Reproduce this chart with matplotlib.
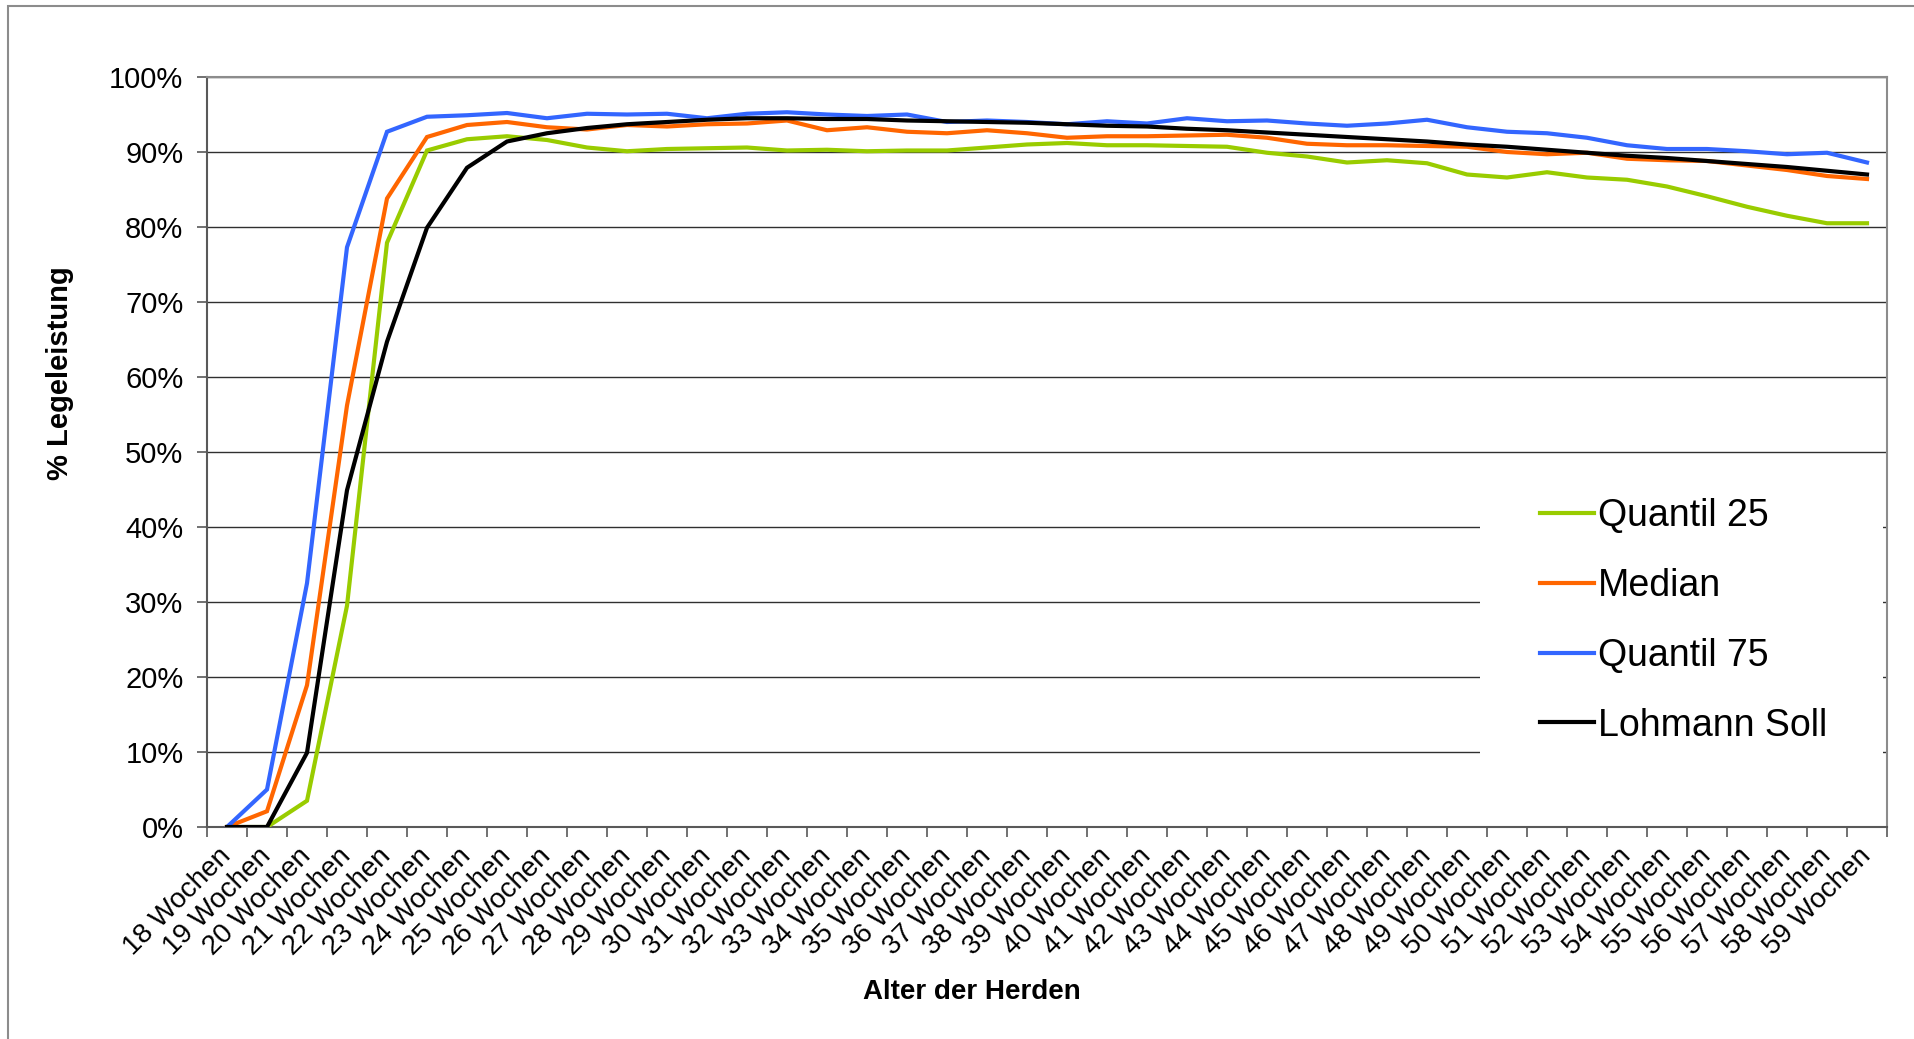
import numpy as np
import matplotlib
matplotlib.use("Agg")
import matplotlib.pyplot as plt
from matplotlib.patches import Rectangle
from matplotlib.ticker import FuncFormatter

plt.rcParams['font.family'] = ['Liberation Sans', 'DejaVu Sans']

weeks = list(range(18, 60))
categories = [f"{w} Wochen" for w in weeks]

quantil_25 = [0, 0, 3.5, 29.5, 77.9, 90.2, 91.7, 92.1, 91.6, 90.6,
              90.1, 90.4, 90.5, 90.6, 90.2, 90.3, 90.1, 90.2, 90.2, 90.6,
              91.0, 91.2, 90.9, 90.9, 90.8, 90.7, 89.9, 89.4, 88.6, 88.9,
              88.5, 87.0, 86.6, 87.3, 86.6, 86.3, 85.4, 84.1, 82.7, 81.5,
              80.5, 80.5]
median = [0, 2.1, 18.9, 56.2, 83.8, 92.0, 93.6, 94.0, 93.3, 93.0,
          93.6, 93.4, 93.7, 93.8, 94.2, 92.9, 93.3, 92.7, 92.5, 92.9,
          92.5, 91.9, 92.1, 92.1, 92.2, 92.3, 91.9, 91.1, 90.9, 90.9,
          90.8, 90.7, 90.0, 89.7, 89.9, 89.1, 88.9, 88.8, 88.2, 87.6,
          86.8, 86.4]
quantil_75 = [0, 5.0, 32.5, 77.3, 92.7, 94.7, 94.9, 95.2, 94.5, 95.1,
              95.0, 95.1, 94.5, 95.1, 95.3, 95.0, 94.8, 95.0, 94.0, 94.2,
              94.0, 93.7, 94.1, 93.8, 94.5, 94.1, 94.2, 93.8, 93.5, 93.8,
              94.3, 93.3, 92.7, 92.5, 91.9, 90.9, 90.4, 90.4, 90.1, 89.7,
              89.9, 88.6]
lohmann_soll = [0, 0, 9.9, 44.9, 64.7, 79.9, 87.9, 91.4, 92.5, 93.2,
                93.7, 94.0, 94.3, 94.5, 94.5, 94.4, 94.4, 94.2, 94.1, 94.0,
                93.9, 93.7, 93.5, 93.4, 93.1, 92.9, 92.6, 92.3, 92.0, 91.7,
                91.4, 91.0, 90.7, 90.3, 89.9, 89.5, 89.2, 88.8, 88.4, 88.0,
                87.5, 87.0]

series = [
    ("Quantil 25", quantil_25, "#99CC00"),
    ("Median", median, "#FF6600"),
    ("Quantil 75", quantil_75, "#3366FF"),
    ("Lohmann Soll", lohmann_soll, "#000000"),
]

W, H = 1914, 1039
fig = plt.figure(figsize=(W / 100, H / 100), dpi=100)

# outer chart border (left/top edges)
fig.patches.append(Rectangle((8 / W, -0.5), 2.0, 1.5 - 6 / H,
                             transform=fig.transFigure, fill=False,
                             edgecolor="#8c8c8c", linewidth=1.5))

left, right, top, bottom = 207, 1887, 77, 827
ax = fig.add_axes([left / W, 1 - bottom / H, (right - left) / W, (bottom - top) / H])

x = np.arange(len(categories))
for name, vals, col in series:
    ax.plot(x, vals, color=col, linewidth=3.0, label=name, solid_joinstyle="miter",
            zorder=3)

ax.set_xlim(-0.5, len(categories) - 0.5)
ax.set_ylim(0, 100)

ax.set_yticks(np.arange(0, 101, 10))
ax.yaxis.set_major_formatter(FuncFormatter(lambda v, p: f"{int(round(v))}%"))
ax.grid(axis="y", color="#303030", linewidth=1.0)
ax.set_axisbelow(True)

ax.set_xticks(x)
ax.set_xticklabels(categories, rotation=45, ha="right", va="center",
                   rotation_mode="anchor")
ax.set_xticks(np.arange(-0.5, len(categories), 1), minor=True)
ax.tick_params(axis="x", which="major", length=0, pad=18, labelsize=20)
ax.tick_params(axis="x", which="minor", length=7, width=1.2, color="#595959")
ax.tick_params(axis="y", length=7, width=1.2, color="#595959", pad=10, labelsize=21)

for side in ("left", "bottom"):
    ax.spines[side].set_color("#595959")
    ax.spines[side].set_linewidth(1.5)
for side in ("top", "right"):
    ax.spines[side].set_color("#8c8c8c")
    ax.spines[side].set_linewidth(1.5)

ax.set_ylabel("% Legeleistung", fontsize=21, fontweight="bold")
ax.yaxis.set_label_coords(-0.079, 0.605)
ax.set_xlabel("Alter der Herden", fontsize=20, fontweight="bold")
ax.xaxis.set_label_coords((972 - left) / (right - left), -(979 - bottom) / (bottom - top))
ax.xaxis.label.set_va("top")

# white background behind the legend, hiding gridlines
ax.add_patch(Rectangle(((1480 - left) / (right - left), (bottom - 800) / (bottom - top)),
                       (1883 - 1480) / (right - left), (800 - 470) / (bottom - top),
                       transform=ax.transAxes, facecolor="white", edgecolor="none",
                       zorder=1))

leg = ax.legend(loc="upper left",
                bbox_to_anchor=(1514 / W, 1 - 472 / H),
                bbox_transform=fig.transFigure,
                frameon=False, fontsize=27, handlelength=1.42,
                handletextpad=0.12, labelspacing=0.9, borderpad=0.2)
for line in leg.get_lines():
    line.set_linewidth(3.0)

fig.savefig("out.png", dpi=100)
